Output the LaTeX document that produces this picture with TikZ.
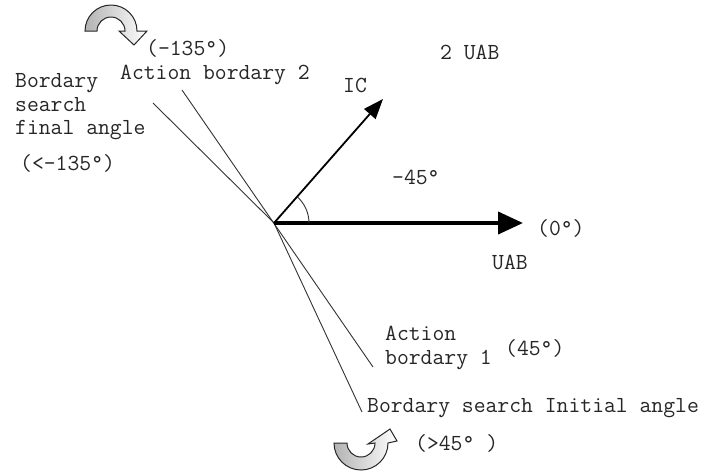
\documentclass[tikz,border=0pt]{standalone}
\usepackage{fontspec}
\usetikzlibrary{arrows.meta}
\tikzset{
  lbl/.style={anchor=west,inner sep=0pt,text=black!85,
              font=\ttfamily\addfontfeatures{FakeBold=1.6}\fontsize{23}{23.5}\selectfont},
  thinline/.style={line width=0.9pt,black!80},
  mainvec/.style={-{Triangle[length=25pt,width=22pt]},line width=4pt},
  icvec/.style={-{Triangle[length=20pt,width=15pt]},line width=1.8pt},
  turnarrow/.style={draw=black!85,line width=1pt,left color=gray!60,
                    right color=white}
}

\begin{document}
\begin{tikzpicture}[x=1pt,y=-1pt]
  \useasboundingbox[fill=white] (0,0) rectangle (718,475);

  % origin and line ends
  \coordinate (o) at (274,223);
  \coordinate (uabend) at (523,223);
  \coordinate (icend) at (383,99);
  \coordinate (act2) at (182,90);
  \coordinate (act1) at (373,367);
  \coordinate (srchfin) at (153,103);
  \coordinate (srchini) at (362,412);

  % boundaries
  \draw[thinline] (act2) -- (act1);
  \draw[thinline] (srchfin) -- (o) -- (srchini);

  % vectors
  \draw[mainvec] (o) -- (uabend);
  \draw[icvec] (o) -- (icend);
  \draw[thinline] ([shift={(0:35)}]o) arc[start angle=0,end angle=-48,radius=35];

  % turning arrows
  \draw[turnarrow] (85,31) arc[start angle=180,end angle=360,radius=26]
    -- (147,31) -- (134,45) -- (119,31) -- (125,31)
    arc[start angle=360,end angle=180,radius=14] -- cycle;
  \draw[turnarrow] (334,443) arc[start angle=180,end angle=0,radius=27]
    -- (397,441) -- (390,429) -- (368,444) -- (375,443)
    arc[start angle=0,end angle=180,radius=14] -- cycle;

  % labels
  \node[lbl] (neg135) at (146,48) {(-135°)};
  \node[lbl] (act2lbl) at (120,75) {Action bordary 2};
  \node[lbl] (uab2) at (440,52) {2 UAB};
  \node[lbl,align=left] (finlbl) at (15,107) {Bordary\\search\\final angle};
  \node[lbl] (finang) at (20,163) {(<-135°)};
  \node[lbl] (iclbl) at (343,85) {IC};
  \node[lbl] (m45) at (392,177) {-45°};
  \node[lbl] (zero) at (537,228) {(0°)};
  \node[lbl] (uablbl) at (492,262) {UAB};
  \node[lbl,align=left] (act1lbl) at (385,348) {Action\\bordary 1};
  \node[lbl] (p45) at (505,348) {(45°)};
  \node[lbl] (inilbl) at (367,408) {Bordary search Initial angle};
  \node[lbl] (gt45) at (415,443) {(>45° )};
\end{tikzpicture}
\end{document}
